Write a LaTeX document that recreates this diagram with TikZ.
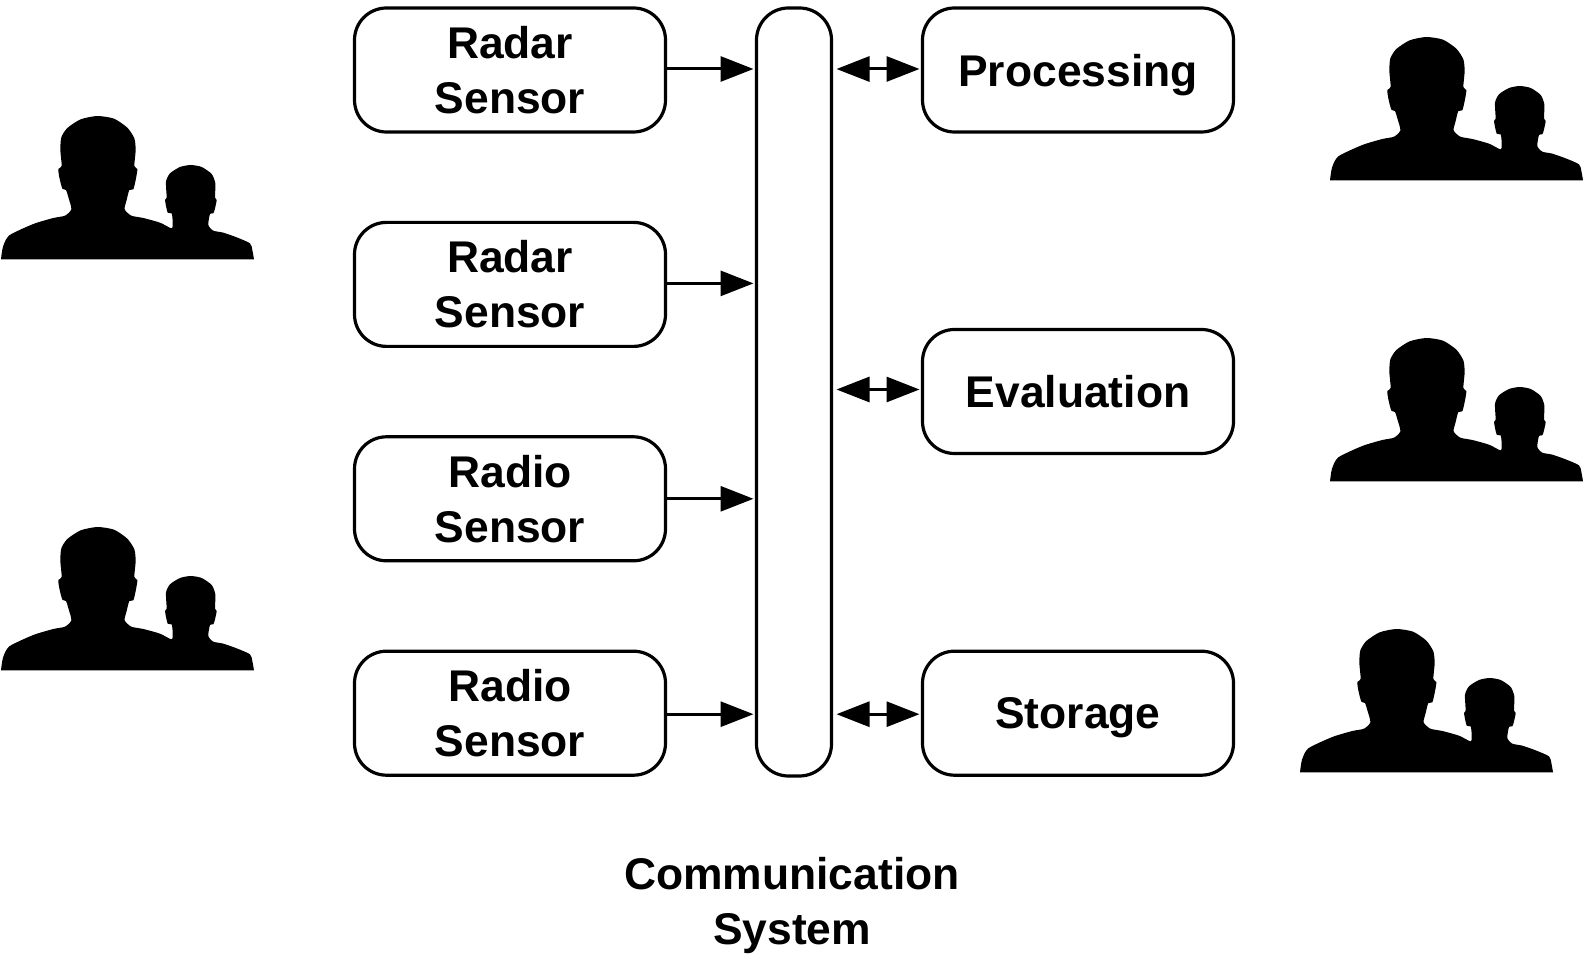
\documentclass[tikz,border=0pt]{standalone}
\usepackage{fontspec}
\setmainfont{Liberation Sans}
\usetikzlibrary{arrows.meta,positioning}
\tikzset{
    block/.style={draw, line width=1.6pt, rounded corners=16pt, outer sep=0pt, inner sep=0pt,
        minimum width=155.5pt, minimum height=62pt, align=center,
        font=\fontsize{22.2}{27.5}\selectfont\bfseries},
    oneline/.style={text depth=0pt},
    link/.style={line width=1.5pt, -{Triangle[length=16.5pt,width=12.5pt]}, shorten >=1.5pt},
    duplex/.style={line width=1.5pt, {Triangle[length=16.5pt,width=12.5pt]}-{Triangle[length=16.5pt,width=12.5pt]},
        shorten >=1.5pt, shorten <=2.5pt},
    pics/users/.style={code={
        \fill[x=0.16667pt,y=-0.16667pt] plot[smooth, tension=.4] coordinates {
            (3,478) (9,440) (28,406) (100,372) (160,354) (195,347) (214,328) (206,295) (198,270)
            (187,266) (178,232) (175,207) (185,198) (181,150) (184,112) (202,84) (242,58) (292,48)
            (342,56) (382,83) (403,115) (407,150) (403,198) (412,207) (408,235) (400,268) (388,270)
            (380,300) (374,328) (394,347) (430,354) (480,368) (515,385) (518,365) (515,340) (503,338) (495,300)
            (500,293) (498,245) (510,220) (540,201) (572,195) (605,201) (635,222) (646,250) (645,293)
            (650,300) (645,325) (640,340) (630,342) (625,375) (640,392) (670,398) (710,412) (750,430)
            (757,450) (762,478)} -- cycle;
    }},
}
\begin{document}
\begin{tikzpicture}[x=0.5pt,y=-0.5pt]
    \useasboundingbox (0,0) rectangle (1586,972);

    \node[block] (radarA) at (510,70) {Radar\\Sensor};
    \node[block, below=45.2pt of radarA] (radarB) {Radar\\Sensor};
    \node[block, below=45.2pt of radarB] (radioA) {Radio\\Sensor};
    \node[block, below=45.2pt of radioA] (radioB) {Radio\\Sensor};

    \node[block, minimum width=37.5pt, minimum height=384pt,
        right=45.5pt of radarA.north east, anchor=north west] (bus) {};

    \node[block, oneline, right=45.5pt of bus.north east, anchor=north west] (processing) {Processing};
    \node[block, oneline] (evaluation) at (processing |- 0,391.5) {Evaluation};
    \node[block, oneline] (storage) at (processing |- radioB) {Storage};

    \node[block, draw=none, below=37.5pt of bus.south, xshift=-1pt, minimum height=55pt] (commsystem) {Communication\\System};

    \draw[link] ([yshift=.5pt]radarA.east) -- ([yshift=.5pt]radarA.east -| bus.west);
    \draw[link] ([yshift=.5pt]radarB.east) -- ([yshift=.5pt]radarB.east -| bus.west);
    \draw[link] (radioA.east) -- (radioA.east -| bus.west);
    \draw[link] ([yshift=-.5pt]radioB.east) -- ([yshift=-.5pt]radioB.east -| bus.west);

    \draw[duplex] ([yshift=.5pt]processing.west -| bus.east) -- ([yshift=.5pt]processing.west);
    \draw[duplex] ([yshift=1pt]evaluation.west -| bus.east) -- ([yshift=1pt]evaluation.west);
    \draw[duplex] ([yshift=-.5pt]storage.west -| bus.east) -- ([yshift=-.5pt]storage.west);

    \pic (usersA) at (0,100) {users};
    \pic (usersB) at (0,511) {users};
    \pic (usersC) at (1329,21) {users};
    \pic (usersD) at (1329,322) {users};
    \pic (usersE) at (1299,613) {users};
\end{tikzpicture}
\end{document}
